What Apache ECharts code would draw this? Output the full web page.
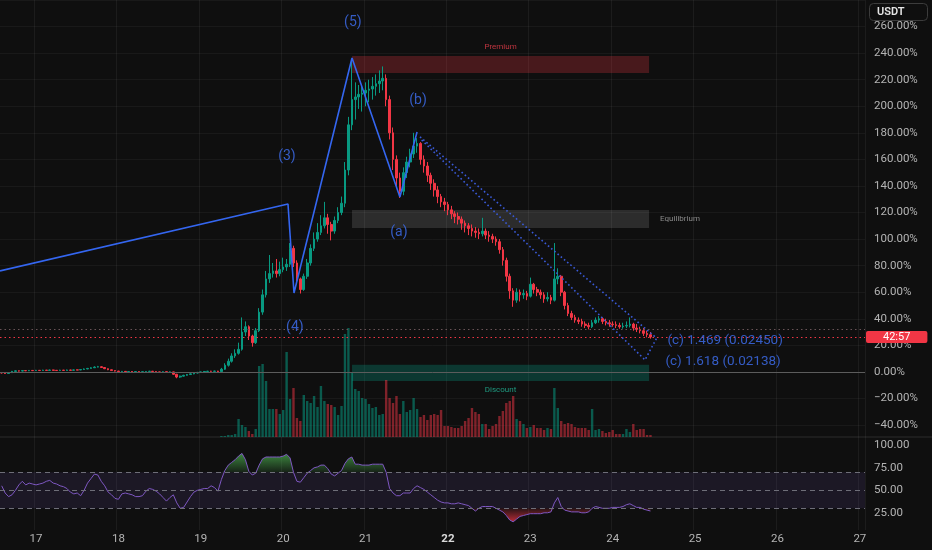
<!DOCTYPE html>
<html><head><meta charset="utf-8">
<script src="https://cdn.jsdelivr.net/npm/echarts@6/dist/echarts.min.js"></script>
<style>html,body{margin:0;padding:0;background:#0f0f0f}#c{width:932px;height:550px}</style>
</head><body><div id="c"></div>
<script>
// ---- time slots (hourly), first slot = day 16, 14:00 ----
const START_DAY = 16, START_HOUR = 14, SLOTS = 252;
const boldDays = [22];
// ---- candles (percent change) ----
const firstOpen = -0.5;
const closes = [
-0.8,-1.2,-0.6,0.4,0.8,0.6,1.0,0.8,1.1,0.9,
1.2,1.0,1.3,1.1,1.4,1.2,1.0,1.3,1.1,1.4,
1.2,1.5,1.4,1.8,2.2,2.6,3.1,3.6,3.9,3.3,
2.4,1.6,1.0,0.6,0.2,0.4,0.1,0.3,0.0,0.2,
-0.2,0.1,0.3,0.5,0.2,0.0,-0.3,0.1,-0.2,0.0,
-1.8,-3.9,-3.2,-2.6,-2.0,-1.5,-0.9,-0.4,0.0,0.3,
0.5,0.4,0.6,0.2,2,5,8,12,14,17,
30,34,27,22,31,45,58,70,74,76,
74,77,79,81,93,82,70,62,72,82,
93,100,105,110,116,111,106,114,120,127,
152,186,205,207,209,210,212,213,215,217,
219,221,205,180,160,146,136,150,158,164,
170,172,160,155,148,142,137,132,128,126,
122,119,117,115,112,110,108,106,105,104,
106,103,102,100,98,92,84,72,61,54,
60,58,59,57,66,62,60,58,55,56,
54,70,72,60,50,44,41,39,38,36,
35,34,37,39,40,38,37,36,35.5,35,
34,34.5,35,36,33,32,31,29,28,26.3];
const highs = [
-0.2,-0.6,-0.3,0.7,1.1,1.0,1.3,1.2,1.4,1.3,
1.5,1.4,1.6,1.5,1.7,1.6,1.4,1.6,1.5,1.7,
1.6,1.8,1.8,2.1,2.6,3.0,3.5,4.2,4.5,4.2,
3.5,2.6,1.8,1.2,0.8,0.7,0.6,0.6,0.5,0.5,
0.4,0.4,0.6,0.8,0.7,0.4,0.2,0.4,0.3,0.3,
0.2,-1.5,-2.8,-2.2,-1.6,-1.1,-0.5,0.0,0.3,0.6,
0.8,0.8,0.9,0.8,3,6.5,10,14,17,22,
41,38,35,28,33,48,62,76,88,82,
85,83,86,85,97,95,84,71,74,85,
96,105,112,118,128,119,113,117,124,132,
158,192,235,218,216,215,218,220,222,224,
227,230,224,208,184,163,150,154,162,168,
180,176,173,163,158,150,145,140,134,131,
128,125,121,120,117,114,112,111,109,108,
116,108,106,104,102,100,94,86,74,63,
63,62,62,61,71,67,64,62,60,60,
58,97,78,73,61,52,46,43,41,40,
38,37,39,41,42,41,40,39,38,38,
37,37,38,41,37,36,34,33,31,30];
const lows = [
-1.3,-1.6,-1.4,-0.8,0.2,0.3,0.4,0.6,0.6,0.7,
0.7,0.8,0.8,0.9,1.0,1.0,0.8,0.9,0.9,1.0,
1.0,1.1,1.2,1.3,1.7,2.0,2.4,3.0,3.4,3.0,
2.1,1.3,0.7,0.3,-0.1,0.0,-0.2,-0.1,-0.3,-0.2,
-0.5,-0.4,0.0,0.1,0.0,-0.3,-0.6,-0.5,-0.5,-0.4,
-2.3,-4.8,-4.5,-3.5,-2.9,-2.3,-1.8,-1.2,-0.6,-0.2,
0.1,0.1,0.2,-0.1,0,1.5,4,7,10.5,13,
16,27,24,19,21,30,43,56,67,71,
71,72,75,76,79,79,66,59,61,70,
80,91,98,103,108,104,99,104,112,118,
124,148,182,190,198,196,200,203,205,208,
210,212,200,175,152,140,131,133,146,154,
161,165,156,150,143,137,132,127,124,121,
118,115,112,111,107,105,103,102,101,100,
102,100,98,97,95,89,80,68,55,49,
52,53,55,54,56,59,57,55,52,53,
51,53,66,57,47,42,39,37,36,34,
33,32,33,36,37,36,35,34,34,33,
32.5,32.5,33,33.5,31,30,29,27,26,25];
const volumes = [
0,0,0,0,0,0,0,0,0,0, 0,0,0,0,0,0,0,0,0,0,
0,0,0,0,0,0,0,0,0,0, 0,0,0,0,0,0,0,0,0,0,
0,0,0,0,0,0,0,0,0,0, 0,0,0,0,0,0,0,0,0,0,
0,0,0,0,1,1,2,2,3,18,
12,10,6,3,8,71,73,56,28,28,
28,23,27,85,38,49,19,16,42,36,
34,41,30,51,36,33,32,30,22,31,
103,109,64,48,46,39,38,33,29,30,
22,23,57,39,34,41,23,36,25,27,
39,28,20,22,17,22,23,22,27,11,
11,10,9,9,11,16,19,29,25,23,
13,13,8,11,13,21,26,34,36,41,
18,16,13,9,10,12,9,9,7,9,
8,49,29,16,13,14,13,10,9,9,
9,7,28,7,8,6,4,5,7,3,
3,3,8,5,13,7,8,8,2,2];
const rsi = [
55,47,43,45,50,56,60,56,58,57,
56,57,58,60,61,58,57,55,54,52,
48,46,47,44,50,58,63,68,67,60,
55,48,45,41,40,46,47,46,45,43,
43,44,49,52,51,49,46,42,38,42,
45,36,30,31,37,43,48,50,51,52,
52,55,53,49,62,72,78,81,84,88,
91,84,71,67,69,78,85,87,87,87,
87,87,88,90,86,70,60,59,64,69,
72,75,76,78,78,74,68,66,69,72,
80,85,87,79,79,78,78,78,79,79,
79,79,70,52,47,44,44,47,47,47,
52,55,53,51,48,45,42,39,37,36,
36,35,35,36,35,34,33,30,27,30,
32,32,32,32,30,28,26,22,17,15,
18,21,22,23,24,24,24,24,25,25,
26,36,42,32,28,27,26,26,26,25,
25,26,30,32,31,30,30,30,31,31,
31,32,34,35,33,31,31,29,28,27];
// ---- drawings, in [slot index, percent] ----
const wavePath = [[-0.5,76],[83.4,126.4],[85.15,59.4],[102.05,236.3],[116,131.7],[121,180.6]];
const channelUpper = [[121.86,177],[190.8,25.4]];
const channelLower = [[122.35,174.6],[187.4,9.0],[190.8,25.4]];
const waveLabels = [['(5)',102.3,263.3],['(3)',83.1,161.8],['(4)',85.4,33.1],['(a)',115.7,105.3],['(b)',121.3,204.7]];
const targetLabels = [['(c) 1.469 (0.02450)',193.8,23.3],['(c) 1.618 (0.02138)',193.2,7.5]];
const zoneSpan = [102.05,188.6];
const zoneNames = ['Premium','Equilibrium','Discount'];
const zoneTop = [237.8,121.9,5.3];
const zoneBottom = [225,108.3,-6.8];
const sessionHigh = 32.4;
const countdown = '42:57';
const rsiLevels = [70,50,30];

// ---- build ----
const UP='#089981', DOWN='#f23645';
const cats=[];
for(let i=0;i<SLOTS;i++){const h=START_HOUR+i;cats.push((START_DAY+Math.floor(h/24))+' '+(h%24));}
const dayStart=(idx)=>(START_HOUR+idx)%24===0;
const candleData=closes.map((c,i)=>{const o=i===0?firstOpen:closes[i-1];return [o,c,lows[i],highs[i]];});
const volData=volumes.map((v,i)=>({value:v,itemStyle:{color:candleData[i][1]>=candleData[i][0]?'rgba(8,153,129,0.55)':'rgba(242,54,69,0.5)'}}));
const lastClose=closes[closes.length-1];
const zoneStyle={
 Premium:{color:'rgba(242,54,69,0.25)',pos:'top',lc:'#c23540'},
 Equilibrium:{color:'rgba(255,255,255,0.12)',pos:'right',lc:'#8a8a8a'},
 Discount:{color:'rgba(8,153,129,0.3)',pos:'bottom',lc:'#1f9a80'}};
const FONT="Roboto, 'Noto Sans', sans-serif";
const BLUE='#3466f0';
const hiddenX=(g,data)=>({type:'category',gridIndex:g,data:data,boundaryGap:true,show:false});

const option={
 backgroundColor:'#0f0f0f',
 animation:false,
 textStyle:{fontFamily:FONT},
 grid:[
  {left:0,right:67,top:0,height:425},
  {left:0,right:67,top:317,height:120},
  {left:0,right:67,top:445.3,height:90},
  {left:0,right:67,top:0,height:530},
  {left:0,right:67,top:0,height:425}],
 xAxis:[
  hiddenX(0,cats),hiddenX(1,cats),hiddenX(2,cats),
  {type:'category',gridIndex:3,data:cats,boundaryGap:true,
   axisLine:{show:false},axisTick:{show:false},
   axisLabel:{interval:(i)=>dayStart(i),margin:3,color:'#b4b4b4',fontSize:11.5,fontFamily:FONT,
     formatter:(v)=>{const d=+v.split(' ')[0];return boldDays.includes(d)?'{b|'+d+'}':String(d);},
     rich:{b:{fontWeight:'bold',color:'#d8d8d8',fontSize:11.5}}},
   splitLine:{show:true,interval:(i)=>dayStart(i),lineStyle:{color:'rgba(255,255,255,0.055)',width:1}}},
  {type:'value',gridIndex:4,min:-0.5,max:SLOTS-0.5,show:false}],
 yAxis:[
  {type:'value',gridIndex:0,position:'right',min:-40,max:280,interval:20,
   axisLine:{show:false},axisTick:{show:false},
   axisLabel:{margin:9,color:'#b4b4b4',fontSize:11.5,fontFamily:FONT,
     formatter:(v)=>v===280?'':(v<0?'\u2212':'')+Math.abs(v).toFixed(2)+'%'},
   splitLine:{lineStyle:{color:'rgba(255,255,255,0.045)'}}},
  {type:'value',gridIndex:1,min:0,max:120,show:false},
  {type:'value',gridIndex:2,position:'right',min:0,max:100,interval:25,
   axisLine:{show:false},axisTick:{show:false},splitLine:{show:false},
   axisLabel:{margin:9,color:'#b4b4b4',fontSize:11.5,fontFamily:FONT,formatter:(v)=>v===0?'':v.toFixed(2)}},
  {type:'value',gridIndex:3,show:false},
  {type:'value',gridIndex:4,min:-40,max:280,show:false}],
 series:[
  {name:'vol',type:'bar',xAxisIndex:1,yAxisIndex:1,data:volData,barWidth:'70%',z:1,silent:true},
  {name:'zones',type:'line',xAxisIndex:4,yAxisIndex:4,data:[],z:1,silent:true,
   markArea:{silent:true,data:zoneNames.map((n,k)=>[
     {coord:[zoneSpan[0],zoneTop[k]],itemStyle:{color:zoneStyle[n].color},
      label:{show:true,formatter:n,position:zoneStyle[n].pos,distance:zoneStyle[n].pos==='right'?11:5,color:zoneStyle[n].lc,fontSize:8,fontFamily:FONT}},
     {coord:[zoneSpan[1],zoneBottom[k]]}])}},
  {name:'levels',type:'line',xAxisIndex:4,yAxisIndex:4,data:[],z:2,silent:true,
   markLine:{silent:true,symbol:['none','none'],animation:false,data:[
     {yAxis:0,lineStyle:{color:'#5c5c5c',type:'solid',width:1},label:{show:false}},
     {yAxis:sessionHigh,lineStyle:{color:'#6a5458',type:[1.5,3],width:1},label:{show:false}},
     {yAxis:lastClose,lineStyle:{color:'#f23645',type:[1.5,3],width:1},
      label:{show:true,position:'end',distance:1,formatter:countdown,color:'#ffffff',fontSize:11,fontFamily:FONT,
        backgroundColor:'#f23645',padding:[0,17,0,17],lineHeight:12,align:'left',borderRadius:2}}]}},
  {name:'price',type:'candlestick',xAxisIndex:0,yAxisIndex:0,data:candleData,barWidth:'62%',z:3,silent:true,
   itemStyle:{color:UP,color0:DOWN,borderColor:UP,borderColor0:DOWN,borderWidth:1}},
  {name:'wave',type:'line',xAxisIndex:4,yAxisIndex:4,data:wavePath,symbol:'none',z:5,silent:true,
   lineStyle:{color:BLUE,width:1.6}},
  {name:'chanU',type:'line',xAxisIndex:4,yAxisIndex:4,data:channelUpper,symbol:'none',z:5,silent:true,
   lineStyle:{color:'#3a5ad8',width:1.6,type:[1.6,2.6]}},
  {name:'chanL',type:'line',xAxisIndex:4,yAxisIndex:4,data:channelLower,symbol:'none',z:5,silent:true,
   lineStyle:{color:'#3a5ad8',width:1.6,type:[1.6,2.6]}},
  {name:'waveLbl',type:'scatter',xAxisIndex:4,yAxisIndex:4,symbolSize:1,z:6,silent:true,
   itemStyle:{color:'rgba(0,0,0,0)'},
   data:waveLabels.map(l=>({name:l[0],value:[l[1],l[2]]})),
   label:{show:true,position:'inside',formatter:'{b}',color:'#3f6ff2',fontSize:14,fontFamily:FONT}},
  {name:'tgtLbl',type:'scatter',xAxisIndex:4,yAxisIndex:4,symbolSize:1,z:6,silent:true,
   itemStyle:{color:'rgba(0,0,0,0)'},
   data:targetLabels.map(l=>({name:l[0],value:[l[1],l[2]]})),
   label:{show:true,position:'right',distance:0,formatter:'{b}',color:'#3f6ff2',fontSize:13.5,fontFamily:FONT}},
  {name:'obBase',type:'line',xAxisIndex:2,yAxisIndex:2,stack:'ob',data:rsi.map(()=>70),symbol:'none',silent:true,lineStyle:{opacity:0}},
  {name:'obFill',type:'line',xAxisIndex:2,yAxisIndex:2,stack:'ob',data:rsi.map(v=>Math.max(v,70)-70),symbol:'none',silent:true,lineStyle:{opacity:0},
   areaStyle:{opacity:1,color:new echarts.graphic.LinearGradient(0,0,0,1,[{offset:0,color:'rgba(76,175,80,0.75)'},{offset:1,color:'rgba(76,175,80,0.12)'}])}},
  {name:'osBase',type:'line',xAxisIndex:2,yAxisIndex:2,stack:'os',data:rsi.map(v=>Math.min(v,30)),symbol:'none',silent:true,lineStyle:{opacity:0}},
  {name:'osFill',type:'line',xAxisIndex:2,yAxisIndex:2,stack:'os',data:rsi.map(v=>30-Math.min(v,30)),symbol:'none',silent:true,lineStyle:{opacity:0},
   areaStyle:{opacity:1,color:new echarts.graphic.LinearGradient(0,0,0,1,[{offset:0,color:'rgba(242,54,69,0.1)'},{offset:1,color:'rgba(242,54,69,0.75)'}])}},
  {name:'rsi',type:'line',xAxisIndex:2,yAxisIndex:2,data:rsi,symbol:'none',z:4,silent:true,
   lineStyle:{color:'#7e57c2',width:1},
   markArea:{silent:true,itemStyle:{color:'rgba(126,87,194,0.12)'},data:[[{yAxis:30},{yAxis:70}]]},
   markLine:{silent:true,symbol:['none','none'],label:{show:false},
     lineStyle:{color:'#6e6e78',type:[5,4],width:1},data:rsiLevels.map(v=>({yAxis:v}))}}
 ],
 graphic:[
  {type:'line',shape:{x1:0,y1:437,x2:932,y2:437},style:{stroke:'#2c2c2c',lineWidth:1},silent:true},
  {type:'rect',shape:{x:869.5,y:3.5,width:58,height:17,r:4},style:{fill:'#0f0f0f',stroke:'#3c3c3c',lineWidth:1},silent:true},
  {type:'text',x:877,y:12,style:{text:'USDT',fill:'#e6e6e6',font:"600 11px "+FONT,verticalAlign:'middle'},silent:true}
 ]
};
const chart=echarts.init(document.getElementById('c'),null,{renderer:'canvas'});
chart.setOption(option);
</script></body></html>
